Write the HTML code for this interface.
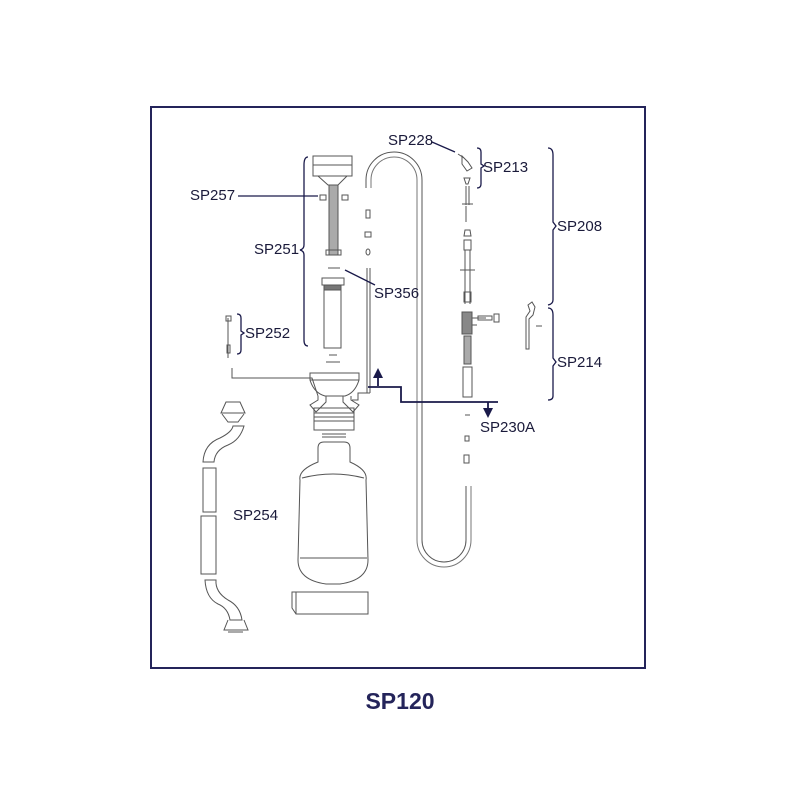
<!DOCTYPE html>
<html><head><meta charset="utf-8"><style>
html,body{margin:0;padding:0;background:#fff;width:800px;height:800px;overflow:hidden}
svg{display:block}
text{font-family:"Liberation Sans",sans-serif;fill:#1a1a3a}
</style></head><body>
<svg width="800" height="800" viewBox="0 0 800 800">
<rect x="151" y="107" width="494" height="561" fill="none" stroke="#24245a" stroke-width="2"/>
<text x="400" y="709" font-size="23" font-weight="bold" text-anchor="middle" style="fill:#24245a">SP120</text>

<g fill="none" stroke="#555" stroke-width="1">
<path d="M366 188 V180 A28 28 0 0 1 422 180 V540 A22 22 0 0 0 466 540 V486"/>
<path d="M371 188 V180 A23 23 0 0 1 417 180 V540 A27 27 0 0 0 471 540 V486" stroke="#777"/>
<rect x="366" y="210" width="4" height="8"/><rect x="365" y="232" width="6" height="5"/><ellipse cx="368" cy="252" rx="2" ry="3"/>
<path d="M367 268 V393 M370 268 V393 M370 393 H358 V400 H352"/>
<rect x="313" y="156" width="39" height="20" fill="#fff"/>
<path d="M313 165 H352 M318 176 L328 185 H338 L347 176"/>
<rect x="329" y="185" width="9" height="70" fill="#aaa"/>
<rect x="320" y="195" width="6" height="5"/><rect x="342" y="195" width="6" height="5"/>
<rect x="326" y="250" width="15" height="5"/>
<path d="M328 268 H340"/>
<path d="M322 278 H344 V285 H322 Z"/>
<rect x="324" y="285" width="17" height="63" fill="#fff"/><rect x="324" y="285" width="17" height="5" fill="#777"/>
<path d="M329 355 H337 M326 362 H340"/>
<path d="M310 373 H359 V380 Q355 393 345 396 H325 Q314 393 310 380 Z"/>
<path d="M310 380 H359"/>
<path d="M318 396 V400 L310 405 L316 412 L326 402 V396 M351 396 V400 L359 405 L353 412 L343 402 V396"/>
<rect x="314" y="408" width="40" height="22"/><path d="M314 413 H354 M314 417 H354 M314 421 H354"/>
<path d="M322 434 H346 M322 437 H346"/>
<path d="M318 462 V448 Q318 442 324 442 H344 Q350 442 350 448 V462 Q368 470 366 480 L368 560 Q368 580 340 584 H326 Q298 580 298 560 L300 480 Q298 470 318 462 Z"/>
<path d="M302 478 Q333 470 364 478 M300 558 H367"/>
<path d="M292 592 H368 V614 H296 L292 608 Z M296 592 V614"/>
<path d="M232 368 V378 H312 L318 396"/>
<path d="M228 318 V358 M226 316 h5 v5 h-5z M227 345 h3 v8 h-3z"/>
<path d="M226 402 L221 413 H245 L240 402 Z M222 414 L228 422 H238 L244 414"/>
<path d="M233 426 L244 426 Q240 440 228 445 Q215 450 214 462 L203 462 Q204 444 220 438 Q232 432 233 426 Z"/>
<rect x="203" y="468" width="13" height="44"/><rect x="201" y="516" width="15" height="58"/>
<path d="M205 580 H216 Q215 592 228 600 Q240 606 242 620 L230 620 Q228 608 218 604 Q206 598 205 580 Z"/>
<path d="M228 620 L224 630 H248 L244 620 M228 632 H243"/>
<path d="M458 154 l6 4 M462 156 l6 6 l4 6 l-5 3 l-5 -7 Z"/>
<path d="M464 178 h6 l-2 6 h-2 Z"/>
<path d="M466 186 V205 M469 186 V205 M462 204 H473 M466 206 V222"/>
<path d="M465 230 h5 l1 6 h-7 Z M464 240 h7 v10 h-7z"/>
<path d="M465 250 V304 M470 250 V304 M460 270 H475"/>
<rect x="464" y="292" width="7" height="10"/>
<rect x="462" y="312" width="10" height="22" fill="#888"/>
<path d="M472 318 H486 M478 316 h14 v4 h-14z M494 314 h5 v8 h-5z M472 325 h5"/>
<rect x="464" y="336" width="7" height="28" fill="#aaa"/>
<rect x="463" y="367" width="9" height="30"/>
<path d="M465 415 h5 M465 436 h4 v5 h-4z M464 455 h5 v8 h-5z"/>
<path d="M528 305 l4 -3 l3 5 l-2 8 l-4 4 v30 h-3 v-32 l4 -6 z M536 326 h6"/>
</g>

<g fill="none" stroke="#1a1a4a" stroke-width="1.3">
<path d="M238 196 H318"/>
<path d="M345 270 L375 285"/>
<path d="M432 142 L455 152"/>
<path d="M308 157 Q304 157 304 165 V245 Q304 249 300 250 Q304 251 304 255 V340 Q304 346 308 346"/>
<path d="M237 314 Q241 314 241 318 V331 L244 333 L241 335 V350 Q241 354 237 354"/>
<path d="M477 148 Q481 148 481 152 V164 L484 166 L481 168 V184 Q481 188 477 188"/>
<path d="M548 148 Q553 148 553 155 V222 L556 226 L553 230 V300 Q553 304 548 305"/>
<path d="M548 308 Q553 308 553 315 V358 L556 362 L553 366 V396 Q553 400 548 400"/>
<path d="M368 387 H401 V402 H498" stroke-width="1.8"/>
<path d="M378 386 V374 M488 402 V412" stroke-width="1.8"/>
</g>
<path d="M373 378 L378 368 L383 378 Z M483 408 L488 418 L493 408 Z" fill="#1a1a4a"/>

<g font-size="15">
<text x="388" y="145">SP228</text>
<text x="483" y="172">SP213</text>
<text x="557" y="231">SP208</text>
<text x="190" y="200">SP257</text>
<text x="254" y="254">SP251</text>
<text x="374" y="298">SP356</text>
<text x="245" y="338">SP252</text>
<text x="557" y="367">SP214</text>
<text x="480" y="432">SP230A</text>
<text x="233" y="520">SP254</text>
</g>
</svg>
</body></html>
